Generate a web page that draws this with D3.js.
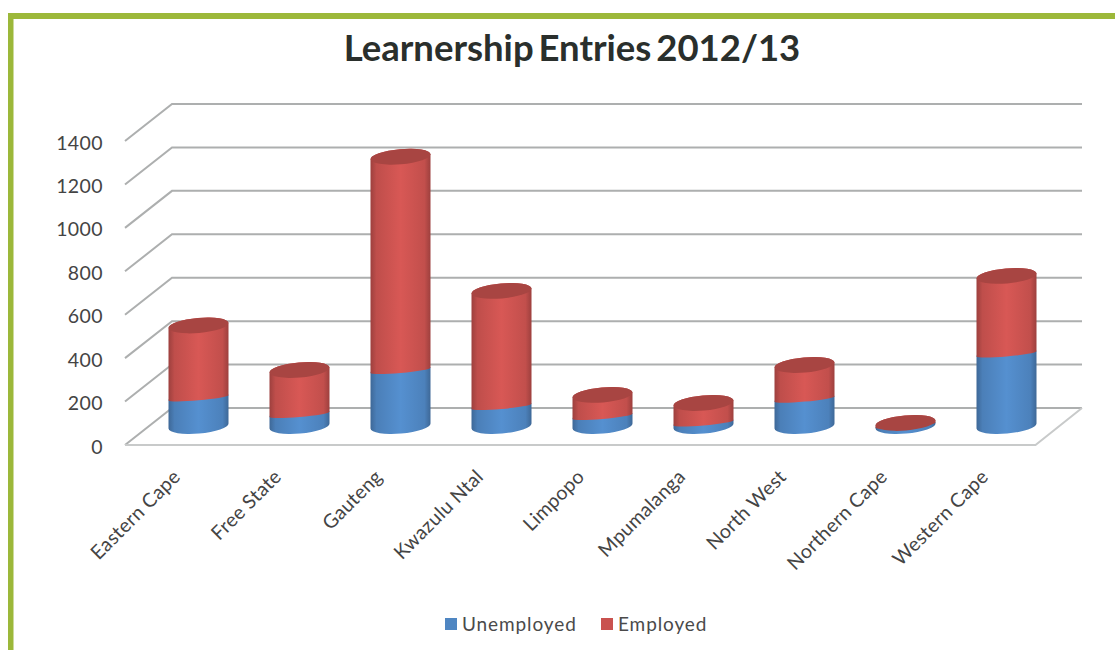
<!DOCTYPE html>
<html>
<head>
<meta charset="utf-8">
<script src="https://cdn.jsdelivr.net/npm/d3@7/dist/d3.min.js"></script>
<style>
  html, body { margin: 0; padding: 0; background: #fff; }
  text { font-family: Lato, "Open Sans", sans-serif; }
</style>
</head>
<body>
<svg id="chart" width="1115" height="650"></svg>
<script>
// Learnership entries per province, split by employment status
const provinces = ["Eastern Cape", "Free State", "Gauteng", "Kwazulu Ntal", "Limpopo",
                   "Mpumalanga", "North West", "Northern Cape", "Western Cape"];
const unemployed = [130, 53, 256, 90, 44, 14, 124, 4, 332];
const employed = [333, 205, 984, 532, 99, 92, 157, 10, 359];
const yTicks = [0, 200, 400, 600, 800, 1000, 1200, 1400];
const seriesNames = ["Unemployed", "Employed"];
const seriesColors = ["#4f86c2", "#c9524f"];

const svg = d3.select("#chart");

// Frame: green rule along the top and left edges
svg.append("rect").attr("x", 8).attr("y", 13).attr("width", 1107).attr("height", 6).attr("fill", "#9cb83a");
svg.append("rect").attr("x", 8).attr("y", 13).attr("width", 5.5).attr("height", 637).attr("fill", "#9cb83a");

svg.append("text").attr("x", 572).attr("y", 61).attr("text-anchor", "middle")
  .attr("font-size", 36.5).attr("font-weight", 700).attr("fill", "#2a2f2c")
  .attr("word-spacing", -4)
  .text("Learnership Entries 2012/13");

// Oblique projection: values rise on the back wall, the front edge is shifted by depth
const depth = { dx: -47, dy: 37 };
const yWall = d3.scaleLinear().domain([0, 1400]).range([408, 104]);
const xWall = d3.scaleLinear().domain([0, 1]).range([172, 1082]);
const slot = d3.scaleBand().domain(provinces).range([148, 1057]);

const grid = svg.append("g").attr("fill", "none").attr("stroke", "#adafaf").attr("stroke-width", 2);
yTicks.forEach(t => {
  const y = yWall(t);
  grid.append("path").attr("d", d3.line()([
    [xWall(0) + depth.dx, y + depth.dy], [xWall(0), y], [xWall(1), y]
  ]));
});
// Floor edges
svg.append("path").attr("fill", "none").attr("stroke", "#c8caca").attr("stroke-width", 2)
  .attr("d", d3.line()([
    [xWall(0) + depth.dx, yWall(0) + depth.dy],
    [xWall(1) + depth.dx + 0.5, yWall(0) + depth.dy],
    [xWall(1), yWall(0)]
  ]));

// Value labels on the left axis
svg.append("g").selectAll("text").data(yTicks).join("text")
  .attr("x", 103).attr("y", d => yWall(d) + depth.dy + 8.5).attr("text-anchor", "end")
  .attr("font-size", 19.5).attr("fill", "#444").attr("letter-spacing", 0.4)
  .text(d => d);

// Shaded cylinder faces
const defs = svg.append("defs");
function sideGradient(id, color) {
  const c = d3.color(color);
  const g = defs.append("linearGradient").attr("id", id);
  [[0, c.darker(0.7)], [0.1, c.darker(0.15)], [0.5, c.brighter(0.2)], [0.9, c.darker(0.1)], [1, c.darker(0.7)]]
    .forEach(([o, col]) => g.append("stop").attr("offset", o).attr("stop-color", col));
}
seriesNames.forEach((n, i) => sideGradient("side" + i, seriesColors[i]));

const rx = 30, ry = 7.5, seamRy = 2.5, tiltDeg = 5;
const yBar = d3.scaleLinear().domain([0, 1400]).range([426, 122]);

// Cylinder section: straight sides, tilted arc below, tilted arc above
function section(cx, yBottom, yTop, bottomRy) {
  const dy = rx * Math.tan(tiltDeg * Math.PI / 180);
  return `M${cx - rx},${yTop + dy} L${cx - rx},${yBottom + dy}
    A${rx},${bottomRy} ${-tiltDeg} 0 0 ${cx + rx},${yBottom - dy}
    L${cx + rx},${yTop - dy}
    A${rx},${ry} ${-tiltDeg} 0 0 ${cx - rx},${yTop + dy} Z`;
}

const bars = svg.append("g").selectAll("g").data(provinces).join("g");
bars.each(function(p, i) {
  const g = d3.select(this);
  const cx = slot(p) + slot.bandwidth() / 2;
  const y0 = yBar(0), y1 = yBar(unemployed[i]), y2 = yBar(unemployed[i] + employed[i]);
  g.append("path").attr("d", section(cx, y0, y1, ry)).attr("fill", "url(#side0)");
  g.append("path").attr("d", section(cx, y1, y2, seamRy)).attr("fill", "url(#side1)");
  g.append("ellipse").attr("cx", cx).attr("cy", y2).attr("rx", rx).attr("ry", ry)
    .attr("transform", `rotate(${-tiltDeg} ${cx} ${y2})`)
    .attr("fill", d3.color(seriesColors[1]).darker(0.5));
});

// Slanted category labels
svg.append("g").selectAll("text").data(provinces).join("text")
  .attr("text-anchor", "end").attr("font-size", 19.5).attr("fill", "#444").attr("letter-spacing", 0.3)
  .attr("transform", d => `translate(${slot(d) + slot.bandwidth() / 2 - 17},${478}) rotate(-45)`)
  .text(d => d);

// Legend
const legendX = [445, 601];
const legend = svg.append("g").selectAll("g").data(seriesNames).join("g")
  .attr("transform", (d, i) => `translate(${legendX[i]},618)`);
legend.append("rect").attr("width", 12).attr("height", 12).attr("fill", (d, i) => seriesColors[i]);
legend.append("text").attr("x", 17).attr("y", 13).attr("font-size", 19).attr("fill", "#4a4a4a")
  .attr("letter-spacing", 0.9).text(d => d);
</script>
</body>
</html>
